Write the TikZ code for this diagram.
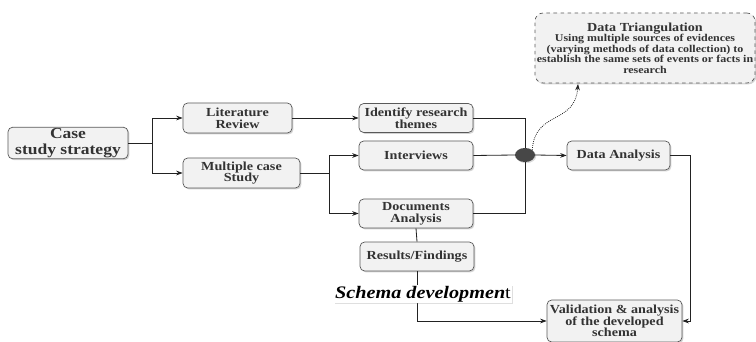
\documentclass[tikz,border=0pt]{standalone}
\usepackage{fontspec}
\setmainfont{Liberation Serif}[FakeStretch=1.15]
\usetikzlibrary{arrows.meta,shadows,shapes.geometric}

\definecolor{boxfill}{HTML}{F2F2F2}
\definecolor{boxline}{HTML}{5A5A5A}
\definecolor{boxtext}{HTML}{333333}
\definecolor{wirecol}{HTML}{222222}

\tikzset{
  stage/.style={draw=boxline, fill=boxfill, rounded corners=4pt, line width=0.6pt,
    text=boxtext, font=\bfseries\fontsize{10.5}{10}\selectfont, align=center,
    inner sep=1pt, drop shadow={opacity=0.35, shadow xshift=1.2pt, shadow yshift=-1.2pt}},
  wire/.style={draw=wirecol, line width=0.7pt},
  arr/.style={wire, -{Stealth[length=5.5pt,width=4pt]}},
}

\begin{document}
\begin{tikzpicture}[x=0.03cm, y=-0.03cm]
    \useasboundingbox (0,0) rectangle (756,342);

    % boxes
    \node[stage, minimum width=3.6cm, minimum height=0.9cm, font=\bfseries\fontsize{13}{13.5}\selectfont] (case) at (68,143) {Case\\study strategy};
    \node[stage, minimum width=3.27cm, minimum height=0.9cm] (lit) at (237.5,118) {Literature\\Review};
    \node[stage, minimum width=3.51cm, minimum height=0.9cm] (mult) at (241.5,173) {Multiple case\\Study};

    \node[stage, minimum width=3.42cm, minimum height=0.87cm] (themes) at (416,118) {Identify research\\themes};
    \node[stage, minimum width=3.42cm, minimum height=0.87cm] (inter) at (416,155.5) {Interviews};
    \node[stage, minimum width=3.42cm, minimum height=0.87cm] (docs) at (416,213.5) {Documents\\Analysis};
    \node[stage, minimum width=3.42cm, minimum height=0.87cm] (res) at (417,256.5) {Results/Findings};

    \node[ellipse, fill=black!72, minimum width=0.6cm, minimum height=0.42cm, inner sep=0pt,
          drop shadow={opacity=0.3, shadow xshift=1pt, shadow yshift=-1pt}] (dot) at (525,155) {};

    \node[stage, minimum width=3.09cm, minimum height=0.87cm] (da) at (618.5,155.5) {Data Analysis};
    \node[stage, minimum width=4.05cm, minimum height=1.26cm] (val) at (614.5,321) {Validation \& analysis\\of the developed\\schema};

    \node[stage, dashed, rounded corners=7pt, minimum width=6.6cm, minimum height=2.1cm,
          font=\bfseries\fontsize{8.9}{8.9}\selectfont] (tri) at (645,48)
          {{\fontsize{10.5}{11}\selectfont Data Triangulation}\\Using multiple sources of evidences\\(varying methods of data collection) to\\establish the same sets of events or facts in\\research};

    % split points
    \coordinate (s1) at (152,143);
    \coordinate (s2) at (329,173);
    \coordinate (s3) at (690,155.5);
    \coordinate (tritip) at (578,84);

    \draw[wire] (case.east) -- (s1);
    \draw[arr] (s1) |- (lit.west);
    \draw[arr] (s1) |- (mult.west);
    \draw[arr] (lit.east) -- (themes.west);

    \draw[wire] (mult.east) -- (s2);
    \draw[arr] (s2) |- (inter.west);
    \draw[arr] (s2) |- (docs.west);

    \draw[wire] (themes.east) -| (dot.north);
    \draw[wire] (inter.east) -- (dot.west);
    \draw[wire] (docs.east) -| (dot.south);
    \draw[arr] (dot.east) -- (da.west);

    \draw[wire] (da.east) -- (s3);
    \draw[arr] (s3) |- (val.east);

    \draw[wire] (docs.south) -- (res.north);
    \draw[arr] (res.south) |- (val.west);

    \draw[wire, densely dotted, -{Stealth[length=5.5pt,width=4pt]}]
        (dot.north east) .. controls (535,110) and (575,125) .. (tritip);

    % label on the result line
    \node[fill=white, inner sep=1pt, text=black,
          drop shadow={opacity=0.25, shadow xshift=1pt, shadow yshift=-1pt}] (schema) at (423,294)
          {{\bfseries\itshape\fontsize{15}{15}\selectfont Schema developmen}{\fontsize{15}{15}\selectfont t}};
\end{tikzpicture}
\end{document}
